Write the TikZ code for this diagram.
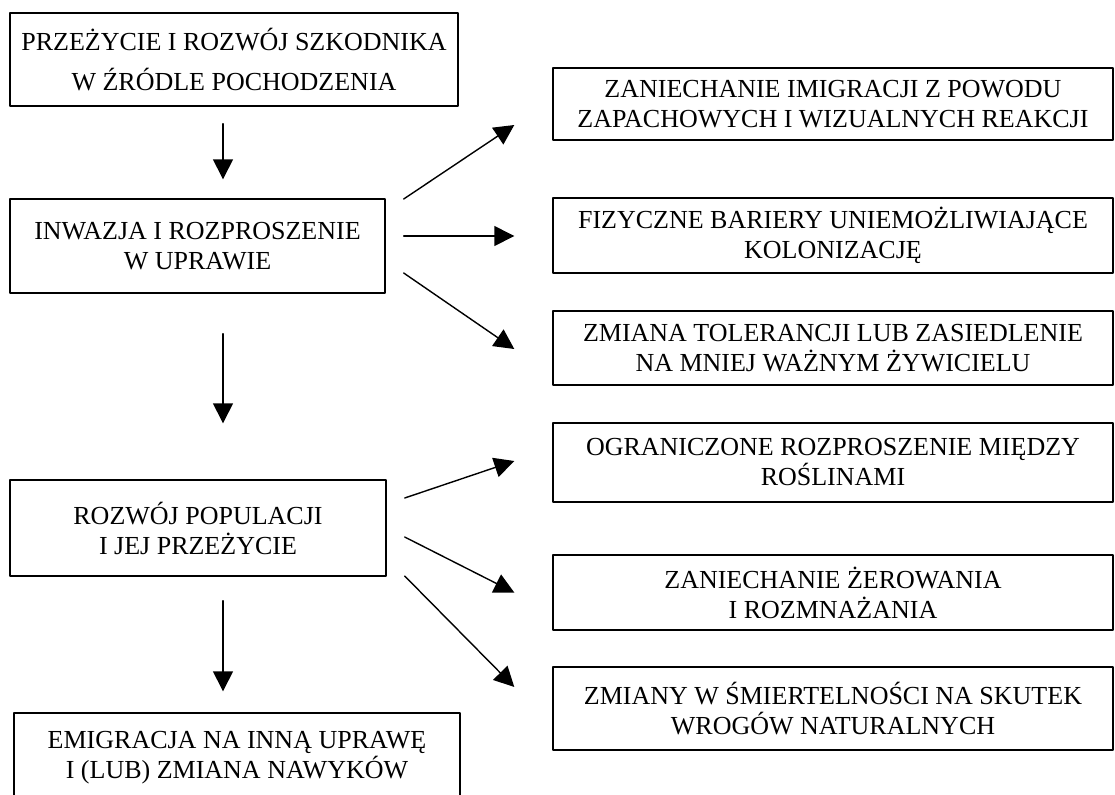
\documentclass[tikz,border=0pt]{standalone}
\usepackage{fontspec}
\setmainfont{Liberation Serif}
\usetikzlibrary{arrows.meta}

\begin{document}
\begin{tikzpicture}[line cap=round,line join=round,>={Triangle[length=10pt,width=10pt]},x=0.5pt,y=-0.5pt,
    box/.style={draw,rectangle,line width=0.7pt,inner sep=0pt,align=center,font=\fontsize{13}{15}\selectfont},
    rbox/.style={box,minimum width=280pt}]
    \useasboundingbox (0,0) rectangle (1115,794);

    % Left column
    \draw(234,59.5) node[box, minimum width=224pt, minimum height=46.5pt, font=\fontsize{13}{20}\selectfont] (B1) {PRZEŻYCIE I ROZWÓJ SZKODNIKA\\W ŹRÓDLE POCHODZENIA};
    \draw(197.5,246) node[box, minimum width=187.5pt, minimum height=47pt] (B2) {INWAZJA I ROZPROSZENIE\\W UPRAWIE};
    \draw(198,528) node[box, minimum width=188pt, minimum height=48pt] (B3) {ROZWÓJ POPULACJI\\I JEJ PRZEŻYCIE};
    \draw(237,758) node[box, minimum width=223pt, minimum height=45pt] (B4) {EMIGRACJA NA INNĄ UPRAWĘ\\I (LUB) ZMIANA NAWYKÓW};

    % Right column
    \draw(833,104) node[rbox, minimum height=36pt] (R1) {ZANIECHANIE IMIGRACJI Z POWODU\\ZAPACHOWYCH I WIZUALNYCH REAKCJI};
    \draw(833,235.5) node[rbox, minimum height=37.5pt] (R2) {FIZYCZNE BARIERY UNIEMOŻLIWIAJĄCE\\KOLONIZACJĘ};
    \draw(833,348) node[rbox, minimum height=37pt] (R3) {ZMIANA TOLERANCJI LUB ZASIEDLENIE\\NA MNIEJ WAŻNYM ŻYWICIELU};
    \draw(833,462.5) node[rbox, minimum height=39.5pt] (R4) {OGRANICZONE ROZPROSZENIE MIĘDZY\\ROŚLINAMI};
    \draw(833,592.5) node[rbox, minimum height=37.5pt] (R5) {ZANIECHANIE ŻEROWANIA\\I ROZMNAŻANIA};
    \draw(833,708.5) node[rbox, minimum height=41.5pt] (R6) {ZMIANY W ŚMIERTELNOŚCI NA SKUTEK\\WROGÓW NATURALNYCH};

    % Edges down
    \foreach \source/\sdx/\sdy/\target/\tdx/\tdy in {B1/-11/17/B2/25.5/-19, B2/25.5/40/B3/25/-56, B3/25/24/B4/-14/-21} {
            \draw[->, line width=0.7pt] ([shift={(\sdx,\sdy)}]\source.south) -- ([shift={(\tdx,\tdy)}]\target.north);
        }

    % Edges to the right
    \foreach \source/\sdy/\target/\tdy in {B2/-47/R1/21, B2/-10/R2/0.5, B2/27/R3/1, B3/-30/R4/-1.5, B3/9/R5/0, B3/48/R6/-21.5} {
            \draw[->, line width=0.7pt] ([shift={(18,\sdy)}]\source.east) -- ([shift={(-38,\tdy)}]\target.west);
        }
\end{tikzpicture}
\end{document}
